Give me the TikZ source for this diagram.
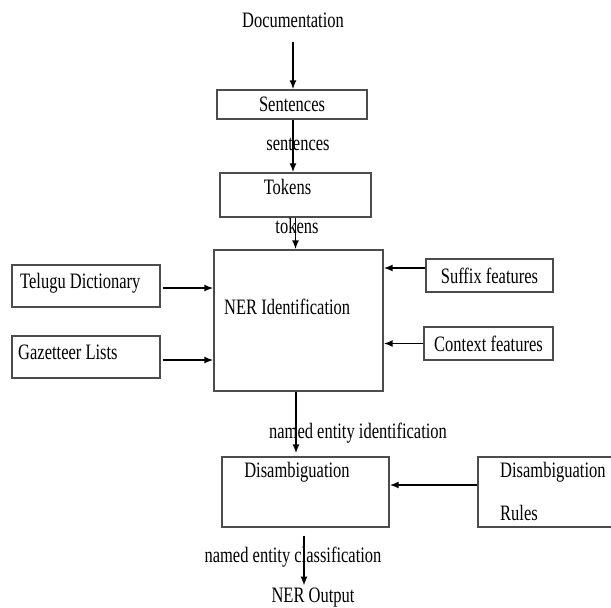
\documentclass[tikz,border=0pt]{standalone}
\usepackage{fontspec}
\setmainfont{Liberation Serif}[FakeStretch=0.75]
\usetikzlibrary{arrows.meta,positioning}

\tikzset{
  box/.style={draw=black!70, line width=1.3pt, inner sep=0pt},
  txt/.style={font=\fontsize{22}{26}\selectfont, inner sep=0pt},
  arr/.style={-{Latex[length=9pt,width=7pt]}, line width=1.7pt},
}

\begin{document}
\begin{tikzpicture}[x=1pt,y=-1pt]
  \clip (0,0) rectangle (611,608);
  \fill[white] (0,0) rectangle (611,608);

  \node[txt] (doc) at (293,20) {Documentation};
  \node[box,txt,minimum width=150pt,minimum height=29pt] (sent) at (292,104.5) {Sentences};
  \node[box,minimum width=151pt,minimum height=44pt] (tok) at (295.5,195) {};
  \node[txt,below=7pt of tok.north,xshift=-8pt] (toktxt) {Tokens};
  \node[box,minimum width=169pt,minimum height=141pt] (ner) at (298.5,320.5) {};
  \node[txt,anchor=west] (nertxt) at (224,307) {NER Identification};

  \node[box,minimum width=148pt,minimum height=42pt] (tel) at (86,286) {};
  \node[txt,anchor=west] (teltxt) at (20,283) {Telugu Dictionary};
  \node[box,minimum width=148pt,minimum height=42pt] (gaz) at (86,357) {};
  \node[txt,anchor=west] (gaztxt) at (18,352) {Gazetteer Lists};

  \node[box,txt,minimum width=127pt,minimum height=33pt] (suf) at (489.5,275.5) {Suffix features};
  \node[box,txt,minimum width=129pt,minimum height=33pt] (ctx) at (488.5,343.5) {Context features};

  \node[box,minimum width=167pt,minimum height=70pt] (dis) at (305.5,492) {};
  \node[txt] (distxt) at (297,472) {Disambiguation};
  \node[box,minimum width=167pt,minimum height=70pt] (rules) at (561.5,492) {};
  \node[txt,anchor=west] (rulestxt1) at (500,472) {Disambiguation};
  \node[txt,anchor=west] (rulestxt2) at (500,513) {Rules};

  \node[txt] (lsent) at (298,144) {sentences};
  \node[txt] (ltok) at (297,226) {tokens};
  \node[txt] (lident) at (358,433) {named entity identification};
  \node[txt] (lclass) at (293,557) {named entity classification};
  \node[txt] (out) at (313,598) {NER Output};

  \draw[arr] ([yshift=-14pt]doc.south) -- (doc.south |- sent.north);
  \draw[arr] (sent.south -| doc) -- (tok.north -| doc);
  \draw[arr] (tok.south) -- (tok.south |- ner.north);
  \draw[arr] ([xshift=2pt,yshift=-2pt]tel.east) -- ([yshift=-2pt]tel.east -| ner.west);
  \draw[arr] ([xshift=2pt,yshift=-3pt]gaz.east) -- ([yshift=-3pt]gaz.east -| ner.west);
  \draw[arr] ([yshift=7.5pt]suf.west) -- ([yshift=7.5pt]suf.west -| ner.east);
  \draw[arr] (ctx.west) -- (ctx.west -| ner.east);
  \draw[arr] ([xshift=-2.5pt]ner.south) -- ([xshift=-2.5pt,yshift=3pt]ner.south |- dis.north);
  \draw[arr] ([yshift=7pt]rules.west) -- ([yshift=7pt]rules.west -| dis.east);
  \draw[arr] ([xshift=-1.5pt,yshift=-8pt]dis.south) -- ([xshift=-1.5pt,yshift=-58pt]dis.south);
\end{tikzpicture}
\end{document}
